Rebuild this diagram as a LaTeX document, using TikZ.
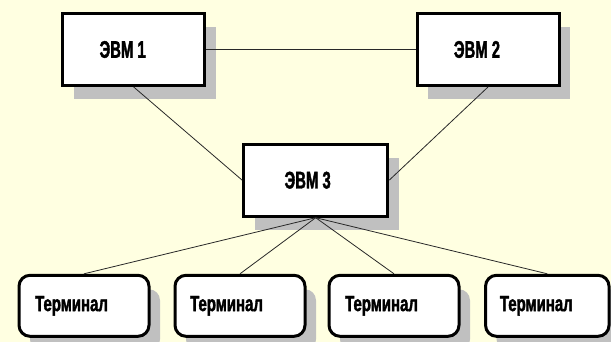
\documentclass[tikz,border=0pt]{standalone}
\usepackage{fontspec}
\setmainfont{Liberation Sans}
\newfontfamily\evmfont{Liberation Sans}[FakeStretch=0.62, FakeBold=1.6]
\newfontfamily\termfont{Liberation Sans}[FakeStretch=0.68, FakeBold=1.6]
\usetikzlibrary{shadows}
\definecolor{bgyellow}{RGB}{255,255,225}
\definecolor{shadowgray}{RGB}{192,192,192}
\definecolor{linegray}{RGB}{40,40,40}
\tikzset{
  evm/.style={draw=black, line width=3pt, fill=white, minimum width=142pt, minimum height=72pt,
    inner sep=0pt, font=\evmfont\bfseries\fontsize{24}{28}\selectfont,
    drop shadow={shadow xshift=11pt, shadow yshift=-14pt, fill=shadowgray, opacity=1}},
  term/.style={draw=black, line width=3pt, fill=white, rounded corners=11pt, minimum width=130pt,
    minimum height=61pt, inner sep=0pt, font=\termfont\bfseries\fontsize{22}{26}\selectfont,
    drop shadow={shadow xshift=11pt, shadow yshift=-14pt, fill=shadowgray, opacity=1}},
  conn/.style={draw=linegray, line width=0.8pt}
}
\begin{document}
\begin{tikzpicture}[x=1pt, y=-1pt]
\fill[bgyellow] (0,0) rectangle (611,342);
\useasboundingbox (0,0) rectangle (611,342);
\node[evm] (e1) at (133.7,49.5) {ЭВМ 1\kern22pt};
\node[evm] (e2) at (488,49.5) {ЭВМ 2\kern22pt};
\node[evm, minimum width=144pt] (e3) at (315.7,180.2) {ЭВМ 3\kern16pt};
\node[term] (t1) at (84,305.8) {Терминал\kern25pt};
\node[term] (t2) at (240,305.8) {Терминал\kern27pt};
\node[term] (t3) at (394,305.8) {Терминал\kern25pt};
\node[term, minimum width=123.5pt] (t4) at (547.3,305.8) {Терминал\kern22pt};
\draw[conn] (e1.east) -- (e2.west);
\draw[conn] (e1.south) -- (e3.west);
\draw[conn] (e2.south) -- (e3.east);
\draw[conn] (e3.south) -- (t1.north);
\draw[conn] (e3.south) -- (t2.north);
\draw[conn] (e3.south) -- (t3.north);
\draw[conn] (e3.south) -- (t4.north);
\end{tikzpicture}
\end{document}
